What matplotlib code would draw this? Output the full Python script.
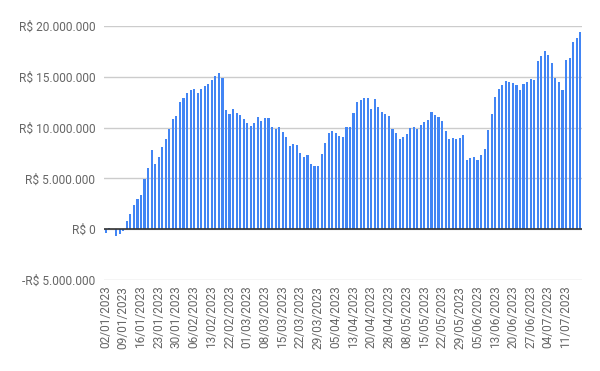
import matplotlib
matplotlib.use("Agg")
import matplotlib.pyplot as plt
import pandas as pd

# dias úteis da B3 (feriados 2023 excluídos)
feriados = ["2023-02-20", "2023-02-21", "2023-04-07", "2023-04-21", "2023-05-01", "2023-06-08"]
datas = pd.bdate_range("2023-01-02", "2023-07-17", freq="C", holidays=feriados)
rotulos = [d.strftime("%d/%m/%Y") for d in datas]

# saldo acumulado, em milhões de R$
saldo_mi = [
    -0.33, 0.1, 0.02, -0.7, -0.5, -0.15, 0.8, 1.5, 2.35, 3.0,
    3.4, 4.95, 6.05, 7.8, 6.45, 7.1, 8.1, 8.9, 9.85, 10.85,
    11.15, 12.55, 12.95, 13.45, 13.7, 13.8, 13.45, 13.8, 14.1, 14.3,
    14.7, 15.1, 15.4, 14.9, 11.75, 11.35, 11.85, 11.45, 11.25, 10.85,
    10.5, 10.2, 10.5, 11.05, 10.65, 10.95, 10.95, 10.05, 9.85, 10.05,
    9.55, 9.05, 8.2, 8.35, 8.25, 7.5, 7.1, 7.3, 6.4, 6.2,
    6.2, 7.4, 8.45, 9.45, 9.65, 9.45, 9.15, 9.05, 10.1, 10.1,
    11.45, 12.5, 12.7, 12.9, 12.9, 11.8, 12.8, 12.0, 11.5, 11.3,
    11.1, 9.85, 9.45, 8.85, 9.05, 9.35, 9.95, 10.05, 9.85, 10.25,
    10.55, 10.75, 11.55, 11.25, 11.05, 10.65, 9.7, 8.87, 8.97, 8.87,
    8.97, 9.26, 6.8, 7.0, 7.1, 6.8, 7.3, 7.9, 9.75, 11.35,
    13.0, 13.8, 14.2, 14.58, 14.48, 14.38, 14.19, 13.69, 14.29, 14.48,
    14.78, 14.68, 16.55, 17.04, 17.57, 17.14, 16.35, 14.88, 14.48, 13.69,
    16.65, 16.85, 18.42, 18.82, 19.41,
]
saldo = [v * 1e6 for v in saldo_mi]

y_ticks = [-5e6, 0, 5e6, 10e6, 15e6, 20e6]

def fmt_real(v):
    s = "{:,.0f}".format(abs(v)).replace(",", ".")
    return ("-R$ " if v < 0 else "R$ ") + s

plt.rcParams["font.family"] = ["Roboto", "DejaVu Sans"]

fig = plt.figure(figsize=(6, 3.71), dpi=100)
ax = fig.add_axes([0.173, 0.245, 0.797, 0.685])

x = list(range(len(saldo)))
ax.bar(x, saldo, width=0.6, color="#4285f4", zorder=3)
ax.axhline(0, color="#333333", linewidth=1.2, zorder=4)

ax.set_ylim(-5e6, 20e6)
ax.set_xlim(-0.5, len(saldo) - 0.5)
ax.set_yticks(y_ticks)
ax.set_yticklabels([fmt_real(v) for v in y_ticks])
ax.set_xticks(x[::5])
ax.set_xticklabels(rotulos[::5], rotation=90)

ax.grid(axis="y", color="#cccccc", linewidth=1, zorder=0)
for s in ax.spines.values():
    s.set_visible(False)
ax.tick_params(axis="both", length=0, labelsize=8.6, colors="#666666")
ax.tick_params(axis="y", pad=6)
ax.tick_params(axis="x", pad=4)

fig.savefig("out.png", dpi=100)
